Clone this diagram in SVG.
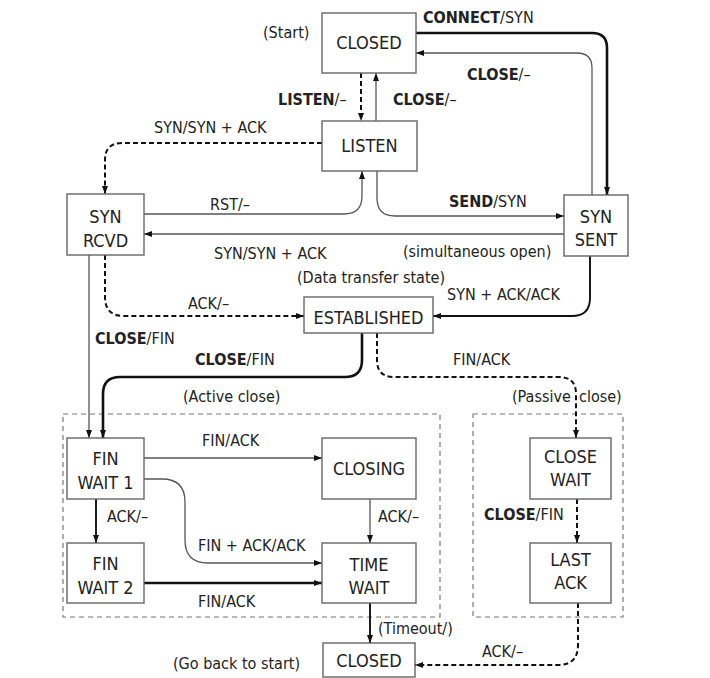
<svg xmlns="http://www.w3.org/2000/svg" width="710" height="678" viewBox="0 0 710 678">
<defs>
<style>
text{font-family:"DejaVu Sans Condensed","DejaVu Sans","Liberation Sans",sans-serif;font-stretch:condensed;fill:#222;font-size:16px}
.st{font-size:18px;text-anchor:middle}
.b{font-weight:bold}
.box{fill:#fff;stroke:#666;stroke-width:1.4}
.thin{fill:none;stroke:#555;stroke-width:1.3}
.thick{fill:none;stroke:#111;stroke-width:2.6}
.med{fill:none;stroke:#111;stroke-width:1.9}
.dash{fill:none;stroke:#111;stroke-width:2;stroke-dasharray:5 3}
.grp{fill:none;stroke:#777;stroke-width:1.2;stroke-dasharray:5 4}
</style>
<marker id="a" viewBox="0 0 8 6" refX="8" refY="3" markerWidth="8" markerHeight="6" markerUnits="userSpaceOnUse" orient="auto"><path d="M0,0 L8,3 L0,6 z" fill="#111"/></marker>
</defs>
<rect width="710" height="678" fill="#fff"/>
<g id="containers">
<rect class="grp" x="63" y="414" width="377" height="203"/>
<rect class="grp" x="473" y="414" width="150" height="203"/>
</g>
<g id="connectors">
<path class="thick" d="M416,33 H592 Q607,33 607,48 V195" marker-end="url(#a)"/>
<path class="thin" d="M592,195 V68 Q592,53 577,53 H416" marker-end="url(#a)"/>
<path class="dash" d="M361,73 V121" marker-end="url(#a)"/>
<path class="thin" d="M376,121 V73" marker-end="url(#a)"/>
<path class="dash" d="M322,143 H122 Q105,143 105,160 V194" marker-end="url(#a)"/>
<path class="thin" d="M144,214 H344 Q362,214 362,196 V171" marker-end="url(#a)"/>
<path class="thin" d="M377,171 V198 Q377,216 395,216 H564" marker-end="url(#a)"/>
<path class="thin" d="M564,234 H144" marker-end="url(#a)"/>
<path class="dash" d="M105,255 V297 Q105,316 124,316 H304" marker-end="url(#a)"/>
<path class="med" d="M590,256 V298 Q590,316 572,316 H433" marker-end="url(#a)"/>
<path class="thin" d="M89,255 V438" marker-end="url(#a)"/>
<path class="thick" d="M362,333 V360 Q362,377 345,377 H120 Q103,377 103,394 V438" marker-end="url(#a)"/>
<path class="dash" d="M377,333 V360 Q377,377 394,377 H559 Q576,377 576,394 V438" marker-end="url(#a)"/>
<path class="thin" d="M144,458 H322" marker-end="url(#a)"/>
<path class="thin" d="M144,479 H162 Q185,479 185,502 V540 Q185,563 208,563 H322" marker-end="url(#a)"/>
<path class="med" d="M96,499 V543" marker-end="url(#a)"/>
<path class="thick" d="M144,583 H322" marker-end="url(#a)"/>
<path class="thin" d="M370,499 V543" marker-end="url(#a)"/>
<path class="dash" d="M577,499 V543" marker-end="url(#a)"/>
<path class="med" d="M370,603 V643" marker-end="url(#a)"/>
<path class="dash" d="M578,603 V645 Q578,665 558,665 H415" marker-end="url(#a)"/>
</g>
<g id="closed-start"><rect class="box" x="322" y="13" width="94" height="60"/><text class="st" x="369" y="49">CLOSED</text></g>
<g id="listen"><rect class="box" x="322" y="121" width="95" height="50"/><text class="st" x="369.5" y="152">LISTEN</text></g>
<g id="syn-rcvd"><rect class="box" x="67" y="194" width="77" height="61"/><text class="st" x="105.5" y="223">SYN</text><text class="st" x="105.5" y="247">RCVD</text></g>
<g id="syn-sent"><rect class="box" x="564" y="195" width="64" height="61"/><text class="st" x="596" y="223">SYN</text><text class="st" x="596" y="246">SENT</text></g>
<g id="established"><rect class="box" x="304" y="297" width="129" height="36"/><text class="st" x="368.5" y="324">ESTABLISHED</text></g>
<g id="fin-wait-1"><rect class="box" x="67" y="438" width="77" height="61"/><text class="st" x="105.5" y="465">FIN</text><text class="st" x="105.5" y="489">WAIT 1</text></g>
<g id="closing"><rect class="box" x="322" y="438" width="94" height="61"/><text class="st" x="369" y="475">CLOSING</text></g>
<g id="fin-wait-2"><rect class="box" x="67" y="543" width="77" height="60"/><text class="st" x="105.5" y="570">FIN</text><text class="st" x="105.5" y="594">WAIT 2</text></g>
<g id="time-wait"><rect class="box" x="322" y="543" width="94" height="60"/><text class="st" x="369" y="571">TIME</text><text class="st" x="369" y="594">WAIT</text></g>
<g id="close-wait"><rect class="box" x="530" y="438" width="81" height="61"/><text class="st" x="570.5" y="463">CLOSE</text><text class="st" x="570.5" y="486">WAIT</text></g>
<g id="last-ack"><rect class="box" x="530" y="543" width="81" height="60"/><text class="st" x="570.5" y="566">LAST</text><text class="st" x="570.5" y="589">ACK</text></g>
<g id="closed-end"><rect class="box" x="323" y="643" width="92" height="34"/><text class="st" x="369" y="667">CLOSED</text></g>
<g id="labels">
<text x="263" y="38">(Start)</text>
<text x="423" y="23"><tspan class="b">CONNECT</tspan>/SYN</text>
<text x="467" y="80"><tspan class="b">CLOSE</tspan>/–</text>
<text x="278" y="105"><tspan class="b">LISTEN</tspan>/–</text>
<text x="393" y="105"><tspan class="b">CLOSE</tspan>/–</text>
<text x="154" y="133">SYN/SYN + ACK</text>
<text x="210" y="210">RST/–</text>
<text x="449" y="207"><tspan class="b">SEND</tspan>/SYN</text>
<text x="214" y="259">SYN/SYN + ACK</text>
<text x="403" y="257">(simultaneous open)</text>
<text x="297" y="283">(Data transfer state)</text>
<text x="188" y="309">ACK/–</text>
<text x="447" y="300">SYN + ACK/ACK</text>
<text x="95" y="344"><tspan class="b">CLOSE</tspan>/FIN</text>
<text x="195" y="365"><tspan class="b">CLOSE</tspan>/FIN</text>
<text x="453" y="365">FIN/ACK</text>
<text x="183" y="402">(Active close)</text>
<text x="512" y="402">(Passive <tspan x="579">close)</tspan></text>
<text x="202" y="446">FIN/ACK</text>
<text x="107" y="522">ACK/–</text>
<text x="198" y="551">FIN + ACK/ACK</text>
<text x="378" y="522">ACK/–</text>
<text x="484" y="520"><tspan class="b">CLOSE</tspan>/FIN</text>
<text x="198" y="607">FIN/ACK</text>
<text x="378" y="634">(Timeout/)</text>
<text x="482" y="657">ACK/–</text>
<text x="173" y="669">(Go back to start)</text>
</g>
</svg>
